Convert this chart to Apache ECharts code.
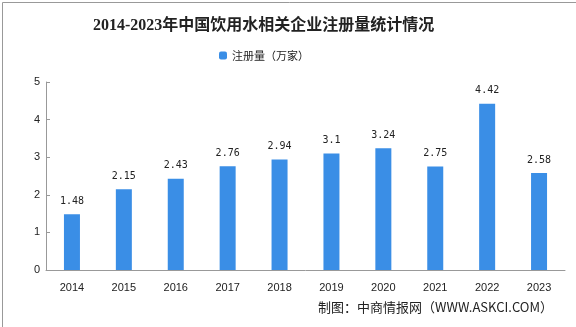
<!DOCTYPE html>
<html><head><meta charset="utf-8">
<script src="https://cdn.jsdelivr.net/npm/echarts@6/dist/echarts.min.js"></script>
<style>html,body{margin:0;padding:0;background:#fff}#c{width:576px;height:327px}</style>
</head><body><div id="c"></div>
<script>
var categories = ['2014','2015','2016','2017','2018','2019','2020','2021','2022','2023'];
var values = [1.48, 2.15, 2.43, 2.76, 2.94, 3.1, 3.24, 2.75, 4.42, 2.58];
var seriesName = '注册量（万家）';
var titleText = '2014-2023年中国饮用水相关企业注册量统计情况';
var sourceText = '制图：中商情报网（WWW.ASKCI.COM）';

var chart = echarts.init(document.getElementById('c'), null, {renderer:'canvas'});
chart.setOption({
  backgroundColor:'#fff',
  animation:false,
  title:{text:titleText, left:88, top:13,
    textStyle:{fontSize:16, fontWeight:'bold', color:'#222', fontFamily:'"Liberation Serif","Noto Sans CJK SC",serif'}},
  legend:{data:[seriesName], top:45, left:214, itemWidth:8, itemHeight:8, itemGap:4,
    textStyle:{fontSize:11, color:'#222', fontFamily:'"Noto Sans CJK SC",sans-serif'}},
  grid:{left:46, right:11, top:82, bottom:57},
  xAxis:{type:'category', data:categories,
    axisLine:{lineStyle:{color:'#999'}},
    axisTick:{inside:true, length:4, lineStyle:{color:'#999'}},
    axisLabel:{color:'#222', fontSize:11, margin:12, fontFamily:'"Liberation Sans",Arial,sans-serif'}},
  yAxis:{type:'value', min:0, max:5, interval:1,
    axisLine:{show:true, lineStyle:{color:'#999'}},
    axisTick:{show:true, inside:true, length:4, lineStyle:{color:'#999'}},
    splitLine:{show:false},
    axisLabel:{color:'#222', fontSize:11, margin:6, fontFamily:'"Liberation Sans",Arial,sans-serif'}},
  series:[{name:seriesName, type:'bar', data:values, barWidth:16,
    itemStyle:{color:'#3a8ee6'},
    label:{show:true, position:'top', distance:8, color:'#222', fontSize:10,
      fontFamily:'"DejaVu Sans Mono",monospace'}}],
  graphic:[
    {type:'rect', left:0, top:0, shape:{width:575, height:325}, style:{fill:'none', stroke:'#999', lineWidth:1}},
    {type:'text', right:23, top:301, style:{text:sourceText, fontSize:13, fill:'#222', fontFamily:'"Noto Sans CJK SC",sans-serif'}}
  ]
});
</script></body></html>
